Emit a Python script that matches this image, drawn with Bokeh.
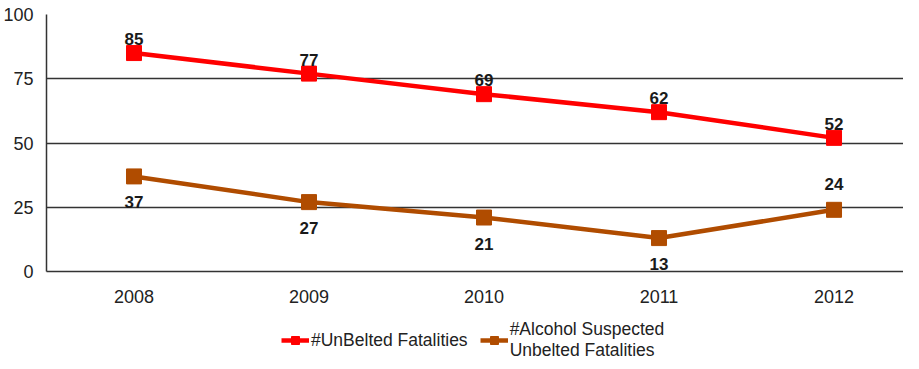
from bokeh.plotting import figure
from bokeh.models import ColumnDataSource, Legend, LegendItem, Range1d, FixedTicker
from bokeh.layouts import column
from bokeh.embed import file_html
from bokeh.resources import INLINE
from bokeh.core.properties import value

years = ["2008", "2009", "2010", "2011", "2012"]
unbelted = [85, 77, 69, 62, 52]
alcohol = [37, 27, 21, 13, 24]
y_ticks = [0, 25, 50, 75, 100]
series_names = ["#UnBelted Fatalities", "#Alcohol Suspected\nUnbelted Fatalities"]

RED = "#FF0000"
BROWN = "#B04C00"
FONT = "Liberation Sans"

xpos = list(range(len(years)))

p = figure(width=903, height=308, output_backend="svg",
           toolbar_location=None, min_border_left=46, min_border_right=0,
           min_border_top=14, min_border_bottom=37)
p.x_range = Range1d(-0.5, 4.397)
p.y_range = Range1d(0, 100)
p.outline_line_color = None
p.background_fill_color = "white"
p.border_fill_color = "white"

p.xgrid.grid_line_color = None
p.ygrid.grid_line_color = "#333333"
p.ygrid.grid_line_width = 1.3
p.yaxis.ticker = FixedTicker(ticks=y_ticks)
p.xaxis.ticker = FixedTicker(ticks=xpos)
p.xaxis.major_label_overrides = {i: y for i, y in zip(xpos, years)}
for ax in (p.xaxis, p.yaxis):
    ax.major_tick_line_color = None
    ax.minor_tick_line_color = None
    ax.axis_line_color = "#333333"
    ax.axis_line_width = 1.5
    ax.major_label_text_font = FONT
    ax.major_label_text_font_size = "18px"
    ax.major_label_text_color = "#222222"
p.yaxis.major_label_standoff = 7
p.xaxis.major_label_standoff = 12

src1 = ColumnDataSource(dict(x=xpos, y=unbelted, t=[str(v) for v in unbelted]))
src2 = ColumnDataSource(dict(x=xpos, y=alcohol, t=[str(v) for v in alcohol],
                             off=[26 if i < 4 else -26 for i in range(len(alcohol))]))

p.line("x", "y", source=src1, line_color=RED, line_width=4.5)
p.scatter("x", "y", source=src1, marker="square", size=15,
          fill_color=RED, line_color=RED)
p.line("x", "y", source=src2, line_color=BROWN, line_width=4.5)
p.scatter("x", "y", source=src2, marker="square", size=15,
          fill_color=BROWN, line_color=BROWN)

p.text("x", "y", text="t", source=src1, y_offset=-14, text_align="center",
       text_baseline="middle", text_font=value(FONT), text_font_style="bold",
       text_font_size="17px", text_color="#1a1a1a")
p.text("x", "y", text="t", source=src2, y_offset="off", text_align="center",
       text_baseline="middle", text_font=value(FONT), text_font_style="bold",
       text_font_size="17px", text_color="#1a1a1a")

# legend strip below the chart (its series lie outside this strip's view)
p2 = figure(width=903, height=53, output_backend="svg", toolbar_location=None,
            min_border=0, x_range=(0, 1), y_range=(-2, -1))
p2.axis.visible = False
p2.grid.visible = False
p2.outline_line_color = None
rl1 = p2.line("x", "y", source=src1, line_color=RED, line_width=4.5)
rm1 = p2.scatter("x", "y", source=src1, marker="square", size=13,
                 fill_color=RED, line_color=RED)
rl2 = p2.line("x", "y", source=src2, line_color=BROWN, line_width=4.5)
rm2 = p2.scatter("x", "y", source=src2, marker="square", size=13,
                 fill_color=BROWN, line_color=BROWN)

legend = Legend(items=[
    LegendItem(label=series_names[0], renderers=[rl1, rm1]),
    LegendItem(label=series_names[1], renderers=[rl2, rm2]),
], orientation="horizontal", location=(235, 0))
legend.border_line_color = None
legend.background_fill_alpha = 0
legend.padding = 0
legend.margin = 0
legend.spacing = 12
legend.glyph_width = 28
legend.label_standoff = 2
legend.label_text_font = FONT
legend.label_text_font_size = "17.5px"
legend.label_text_line_height = 1.1
legend.label_text_color = "#222222"
p2.add_layout(legend, "center")

layout = column(p, p2, spacing=0)
open("out.html", "w").write(file_html(layout, INLINE))
